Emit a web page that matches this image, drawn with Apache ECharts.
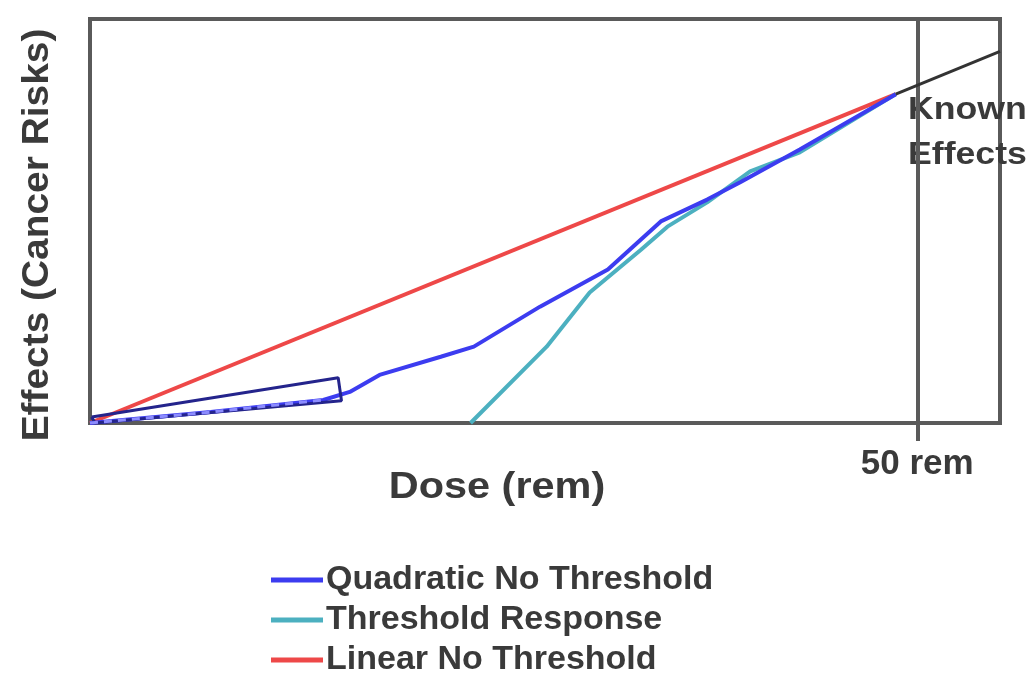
<!DOCTYPE html>
<html>
<head>
<meta charset="utf-8">
<script src="https://cdn.jsdelivr.net/npm/echarts@6/dist/echarts.min.js"></script>
<style>
  html, body { margin: 0; padding: 0; background: #fff; }
  #chart { width: 1033px; height: 674px; }
</style>
</head>
<body>
<div id="chart"></div>
<script>
// Dose-response models: dose in rem (x), relative effect (y, 0-100)
const quadraticNoThreshold = [[0, 0], [7.3, 2.7], [14.1, 5.7], [15.7, 7.7], [17.5, 11.9], [21.2, 16.4], [23.2, 18.9], [27.2, 28.8], [31.3, 38.0], [34.5, 49.9], [37.3, 55.3], [39.3, 59.6], [42.9, 67.7], [48.7, 81.4]];
const thresholdResponse = [[23.0, 0], [27.6, 18.9], [30.2, 32.3], [33.3, 42.9], [34.9, 48.6], [37.3, 54.6], [39.9, 62.3], [42.9, 67.0], [48.7, 81.4]];
const linearNoThreshold = [[0, 0], [48.7, 81.4]];
const knownEffects = [[48.7, 81.4], [55, 92]];
// low-dose inset outline and the dashed low-dose segment inside it
const lowDoseBox = [[0.1, 1.5], [15.0, 11.2], [15.2, 5.5], [0.3, 0], [0.1, 1.5]];
const lowDoseSegment = [[0, 0], [7.3, 2.7], [14.1, 5.7]];
const doseTicks = [50];
const seriesNames = ['Quadratic No Threshold', 'Threshold Response', 'Linear No Threshold'];
const xTitle = 'Dose (rem)';
const yTitle = 'Effects (Cancer Risks)';
const knownLabel = 'Known\nEffects';

const FONT = 'Liberation Sans, Arial, sans-serif';
const AXIS_GRAY = '#5a5a5a';
const TEXT = '#3a3a3a';

const chart = echarts.init(document.getElementById('chart'), null, { renderer: 'canvas' });

chart.setOption({
  animation: false,
  backgroundColor: '#fff',
  grid: {
    left: 90, right: 33, top: 19, bottom: 251,
    show: true, borderColor: AXIS_GRAY, borderWidth: 4, backgroundColor: 'transparent'
  },
  xAxis: {
    type: 'value', min: 0, max: 55,
    axisLine: { show: false },
    splitLine: { show: false },
    axisTick: { show: true, customValues: doseTicks, length: 18, lineStyle: { color: AXIS_GRAY, width: 4 } },
    axisLabel: {
      customValues: doseTicks, margin: 24,
      fontFamily: FONT, fontSize: 35, fontWeight: 'bold', color: TEXT,
      formatter: v => v + ' rem'
    }
  },
  yAxis: {
    type: 'value', min: 0, max: 100,
    axisLine: { show: false }, axisTick: { show: false }, axisLabel: { show: false }, splitLine: { show: false }
  },
  legend: {
    orient: 'vertical', left: 266, top: 557, height: 130,
    itemWidth: 52, itemHeight: 5, itemGap: 4,
    icon: 'rect',
    textStyle: { fontFamily: FONT, fontSize: 34, fontWeight: 'bold', color: TEXT, lineHeight: 36, padding: [0, 0, 0, -2] },
    data: seriesNames
  },
  graphic: [
    {
      type: 'text', x: 497, y: 488, scaleX: 1.12,
      style: { text: xTitle, font: 'bold 37px ' + FONT, fill: TEXT, align: 'center', verticalAlign: 'middle' }
    },
    {
      type: 'text', x: 38, y: 235, rotation: Math.PI / 2, scaleX: 1.08,
      style: { text: yTitle, font: 'bold 36px ' + FONT, fill: TEXT, align: 'center', verticalAlign: 'middle' }
    },
    {
      type: 'text', x: 908, y: 88, scaleX: 1.15,
      style: { text: knownLabel, font: 'bold 31px ' + FONT, fill: TEXT, lineHeight: 45 }
    }
  ],
  series: [
    {
      name: seriesNames[2], type: 'line', data: linearNoThreshold, symbol: 'none',
      lineStyle: { color: '#ee4848', width: 4 }, itemStyle: { color: '#ee4848' }, z: 3
    },
    {
      name: seriesNames[1], type: 'line', data: thresholdResponse, symbol: 'none',
      lineStyle: { color: '#4cb0c0', width: 4 }, itemStyle: { color: '#4cb0c0' }, z: 4
    },
    {
      name: seriesNames[0], type: 'line', data: quadraticNoThreshold, symbol: 'none',
      lineStyle: { color: '#3c3cf0', width: 4 }, itemStyle: { color: '#3c3cf0' }, z: 5
    },
    {
      name: 'known', type: 'line', data: knownEffects, symbol: 'none',
      lineStyle: { color: '#333', width: 3 }, z: 6,
      markLine: {
        silent: true, symbol: 'none', label: { show: false },
        lineStyle: { color: AXIS_GRAY, width: 4, type: 'solid' },
        data: [{ xAxis: doseTicks[0] }]
      }
    },
    {
      name: 'lowDoseBox', type: 'line', data: lowDoseBox, symbol: 'none',
      lineStyle: { color: '#24248c', width: 3 }, z: 6
    },
    {
      name: 'lowDoseSegment', type: 'line', data: lowDoseSegment, symbol: 'none',
      lineStyle: { color: '#8c8cff', width: 3, type: [8, 6] }, z: 7
    }
  ]
});
</script>
</body>
</html>
